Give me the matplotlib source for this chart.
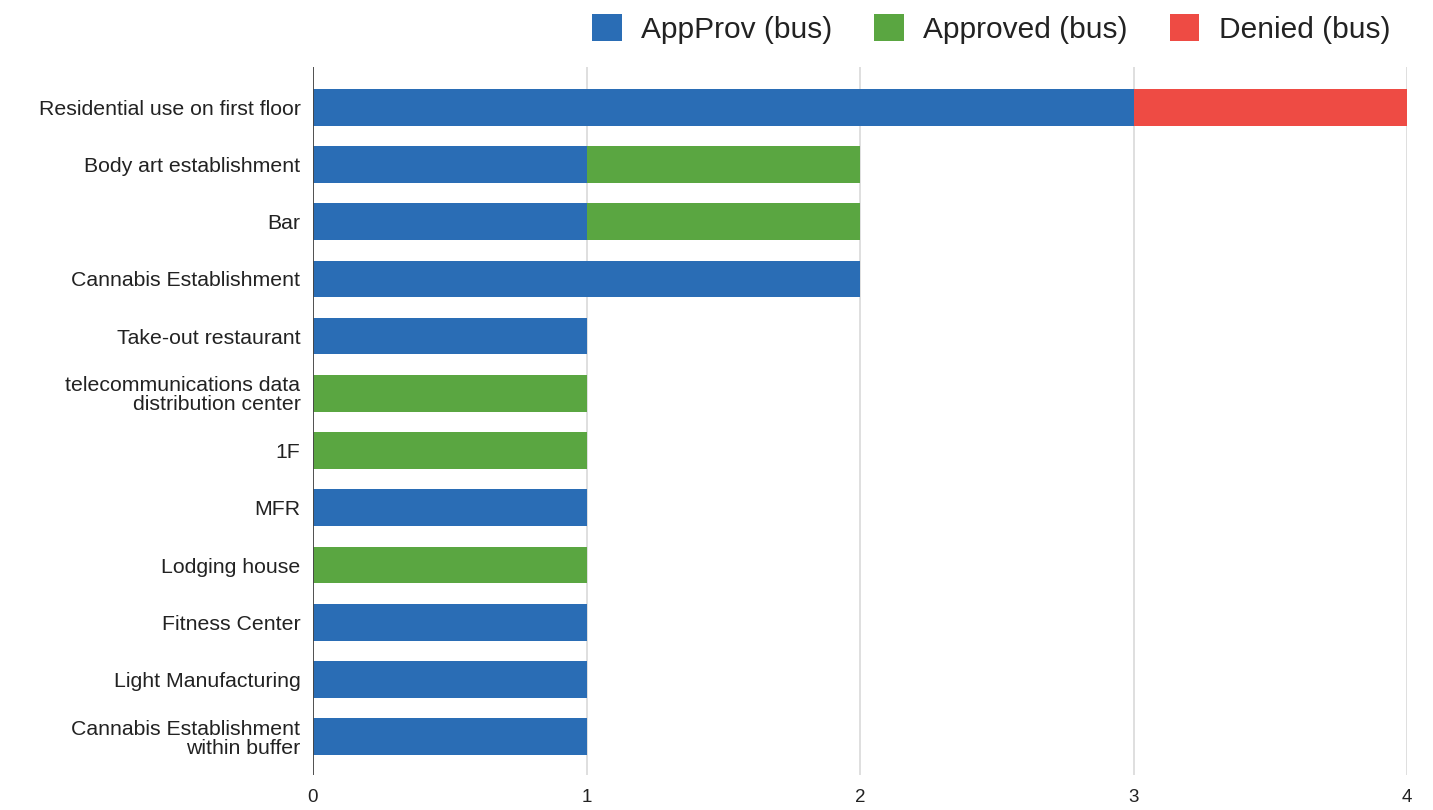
import matplotlib.pyplot as plt
import numpy as np
from matplotlib.patches import Patch

plt.rcParams['font.family'] = ['Liberation Sans', 'DejaVu Sans']

categories = [
    "Residential use on first floor",
    "Body art establishment",
    "Bar",
    "Cannabis Establishment",
    "Take-out restaurant",
    "telecommunications data\ndistribution center",
    "1F",
    "MFR",
    "Lodging house",
    "Fitness Center",
    "Light Manufacturing",
    "Cannabis Establishment\nwithin buffer",
]
appprov = [3, 1, 1, 2, 1, 0, 0, 1, 0, 1, 1, 1]
approved = [0, 1, 1, 0, 0, 1, 1, 0, 1, 0, 0, 0]
denied = [1, 0, 0, 0, 0, 0, 0, 0, 0, 0, 0, 0]
series_names = ["AppProv (bus)", "Approved (bus)", "Denied (bus)"]
colors = ["#2a6db5", "#5aa641", "#ee4b44"]
xticks = [0, 1, 2, 3, 4]

fig = plt.figure(figsize=(14.33, 8.10), dpi=100)
ax = fig.add_axes([0.2184, 0.0432, 0.7636, 0.8738])

y = np.arange(len(categories))
h = 0.64
left = np.zeros(len(categories))
for vals, c in zip([appprov, approved, denied], colors):
    vals = np.array(vals, dtype=float)
    ax.barh(y, vals, left=left, height=h, color=c, edgecolor='none', zorder=3)
    left += vals

ax.set_xlim(0, 4)
ax.set_ylim(len(categories) - 1 + 0.67, -0.70)
ax.set_xticks(xticks)
ax.set_xticklabels([str(t) for t in xticks], fontsize=13.5, color='#222222')
ax.set_yticks(y)
ax.set_yticklabels(categories, fontsize=15.3, color='#222222', linespacing=1.0)
ax.tick_params(axis='x', length=0, pad=10)
ax.tick_params(axis='y', length=0, pad=9)
ax.xaxis.grid(True, color='#d9d9d9', linewidth=1.2, zorder=0)
ax.axvline(0, color='#444444', linewidth=1.3, zorder=4)
for s in ax.spines.values():
    s.set_visible(False)

handles = [Patch(facecolor=c, edgecolor='none') for c in colors]
fig.legend(handles, series_names, loc='upper right', bbox_to_anchor=(0.989, 1.016),
           ncol=3, frameon=False, fontsize=21.5, handlelength=1.0, handleheight=1.0,
           handletextpad=0.65, columnspacing=1.4, labelcolor='#222222')

fig.savefig('out.png', dpi=100, facecolor='white')
